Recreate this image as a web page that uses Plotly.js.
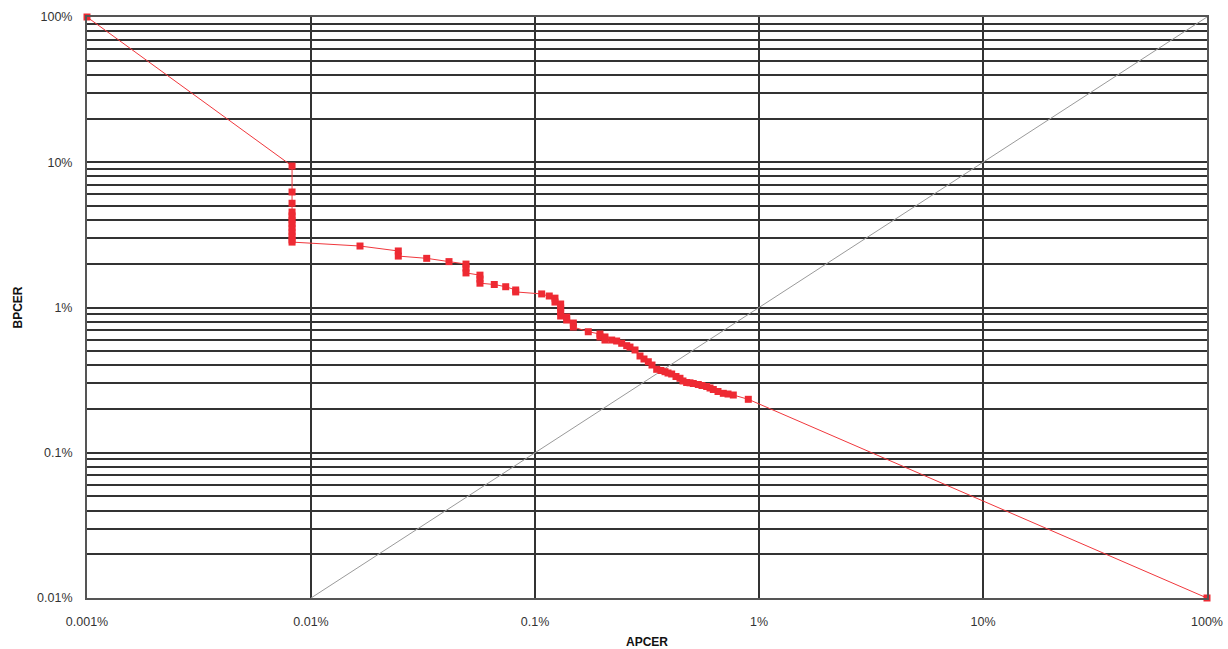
<!DOCTYPE html>
<html>
<head>
<meta charset="utf-8">
<script src="https://cdn.plot.ly/plotly-3.0.1.min.js"></script>
<style>
  html, body { margin: 0; padding: 0; background: #fff; }
  #chart { width: 1228px; height: 649px; }
</style>
</head>
<body>
<div id="chart"></div>
<script>
// DET curve: attack presentation vs. bona fide presentation classification error rates (%)
const apcer = [
  0.001,
  0.00823, 0.00823, 0.00823, 0.00823, 0.00823, 0.00823,
  0.00823, 0.00823, 0.00823, 0.00823, 0.00823, 0.00823,
  0.01655, 0.02453, 0.02453, 0.03285, 0.04131,
  0.0492, 0.0492, 0.0492, 0.0568, 0.0568, 0.0568,
  0.0658, 0.0740, 0.0820, 0.0820,
  0.1071, 0.1158, 0.1228, 0.1228,
  0.1302, 0.1302, 0.1302, 0.1302, 0.1385, 0.1385, 0.1483, 0.1483,
  0.1729, 0.1950, 0.1950, 0.2053, 0.2053, 0.2200, 0.2315, 0.2438, 0.2567,
  0.2655, 0.2796, 0.2943, 0.3066, 0.3205, 0.3329, 0.3494, 0.3651, 0.3805,
  0.3925, 0.4076, 0.4260, 0.4438, 0.4577, 0.4754, 0.4920, 0.5089, 0.5358,
  0.5566, 0.5841, 0.6044, 0.6252, 0.6561, 0.6929, 0.7273, 0.7678, 0.8959,
  100
];
const bpcer = [
  100,
  9.42, 6.24, 5.22, 4.54, 4.27, 4.00,
  3.76, 3.53, 3.31, 3.11, 2.92, 2.82,
  2.65, 2.45, 2.26, 2.18, 2.07,
  1.99, 1.87, 1.73, 1.67, 1.57, 1.47,
  1.44, 1.39, 1.32, 1.28,
  1.24, 1.20, 1.16, 1.09,
  1.057, 0.992, 0.931, 0.874, 0.860, 0.820, 0.782, 0.734,
  0.681, 0.657, 0.627, 0.627, 0.597, 0.597, 0.588, 0.567, 0.546,
  0.534, 0.510, 0.4636, 0.442, 0.4233, 0.4018, 0.3754, 0.3684, 0.3614,
  0.354, 0.3485, 0.335, 0.3256, 0.312, 0.3045, 0.303, 0.2998, 0.2951,
  0.2904, 0.2858, 0.2791, 0.2726, 0.264, 0.2566, 0.2537, 0.2497, 0.2333,
  0.01
];

// Equal error rate reference line
const eerLine = [0.01, 100];

// Axis decades and labels
const xDecades = [0.001, 0.01, 0.1, 1, 10, 100];
const xLabels = ['0.001%', '0.01%', '0.1%', '1%', '10%', '100%'];
const yDecades = [0.01, 0.1, 1, 10, 100];
const yLabels = ['0.01%', '0.1%', '1%', '10%', '100%'];

// y grid: every 1..9 step inside each decade, labelled only at decades
const yTickVals = [];
const yTickText = [];
for (let d = 0; d < yDecades.length; d++) {
  const base = yDecades[d];
  const steps = d === yDecades.length - 1 ? 1 : 9;
  for (let k = 1; k <= steps; k++) {
    yTickVals.push(+(base * k).toPrecision(6));
    yTickText.push(k === 1 ? yLabels[d] : '');
  }
}

const tickFont = { family: 'Liberation Sans, Arial, sans-serif', size: 12.5, color: '#333' };
const titleFont = { family: 'Liberation Sans, Arial, sans-serif', size: 12, color: '#111', weight: 'bold' };

const traces = [
  {
    x: eerLine, y: eerLine,
    type: 'scatter', mode: 'lines',
    line: { color: '#9a9a9a', width: 1 },
    hoverinfo: 'skip', showlegend: false
  },
  {
    x: apcer, y: bpcer,
    type: 'scatter', mode: 'lines+markers',
    cliponaxis: false,
    line: { color: '#f0373c', width: 1 },
    marker: { symbol: 'square', size: 7, color: '#ee2a33', line: { width: 0 } },
    showlegend: false
  }
];

const layout = {
  width: 1228, height: 649,
  margin: { l: 87, r: 21, t: 17, b: 51 },
  paper_bgcolor: '#ffffff',
  plot_bgcolor: '#ffffff',
  showlegend: false,
  xaxis: {
    type: 'log',
    range: [-3, 2],
    tickmode: 'array',
    tickvals: xDecades,
    ticktext: xLabels,
    ticks: '',
    ticklabelstandoff: 11,
    tickfont: tickFont,
    showgrid: true,
    gridcolor: '#333333',
    gridwidth: 2,
    zeroline: false,
    showline: true,
    linecolor: '#555',
    linewidth: 2,
    mirror: true,
    title: { text: 'APCER', font: titleFont, standoff: 10 }
  },
  yaxis: {
    type: 'log',
    range: [-2, 2],
    tickmode: 'array',
    tickvals: yTickVals,
    ticktext: yTickText,
    ticks: '',
    ticklabelstandoff: 10,
    tickfont: tickFont,
    showgrid: true,
    gridcolor: '#333333',
    gridwidth: 2,
    zeroline: false,
    showline: true,
    linecolor: '#555',
    linewidth: 2,
    mirror: true,
    title: { text: 'BPCER', font: titleFont, standoff: 12 }
  }
};

Plotly.newPlot('chart', traces, layout, { staticPlot: true, displayModeBar: false });
</script>
</body>
</html>
